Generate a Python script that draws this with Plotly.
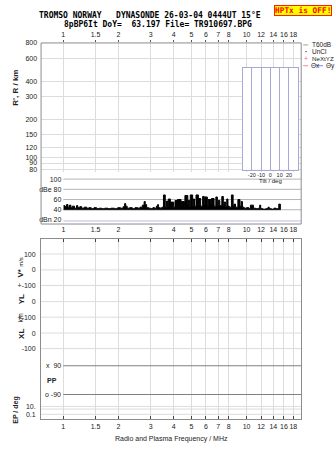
import plotly.graph_objects as go

W, H = 335, 451


def px(x):
    return x / W


def py(y):
    return 1 - y / H


# ---------------- data ----------------
freq_ticks = [1, 1.5, 2, 3, 4, 5, 6, 7, 8, 10, 12, 14, 16, 18]
freq_ticktext = ["1", "1.5", "2", "3", "4", "5", "6", "7", "8", "10", "12", "14", "16", "18"]
range_ticks = [80, 90, 100, 120, 150, 200, 300, 400, 600, 800]
amp_ticks = [20, 40, 60, 80, 100]
amp_ticktext = ["dBn 20", "40", "60", "dBe 80", "100"]
amp_grid = [40, 60, 80, 100]
amp_floor = 40
noise_level = 18
tilt_ticks = [-20, -10, 0, 10, 20]

amp_freq = [1.00, 1.02, 1.04, 1.06, 1.08, 1.10, 1.12, 1.15, 1.18, 1.20, 1.23, 1.26,
            1.30, 1.34, 1.38, 1.42, 1.47, 1.52, 1.57, 1.62, 1.68, 1.75, 1.82, 1.90,
            1.98, 2.05, 2.12, 2.16, 2.19, 2.23, 2.30, 2.38, 2.46, 2.55, 2.62, 2.70,
            2.76, 2.80, 2.85, 2.92, 3.00, 3.08, 3.15, 3.22, 3.27, 3.31, 3.38, 3.45,
            3.52, 3.60, 3.66, 3.71, 3.74, 3.84, 4.00, 4.07, 4.18, 4.20, 4.39, 4.42,
            4.58, 4.61, 4.78, 4.80, 4.90, 4.93, 5.08, 5.12, 5.20, 5.30, 5.46, 5.50,
            5.62, 5.76, 5.88, 5.93, 6.11, 6.17, 6.39, 6.43, 6.65, 6.80, 6.93, 7.00,
            7.15, 7.33, 7.47, 7.55, 7.70, 7.80, 7.92, 8.05, 8.27, 8.45, 8.55, 8.70,
            8.97, 9.21, 9.35, 9.50, 9.70, 10.0, 10.3, 10.5, 10.9, 11.2, 11.6, 11.8,
            11.95, 12.3, 12.7, 13.1, 13.3, 13.7, 14.1, 14.5, 15.0, 15.3]
amp_db = [48, 46, 50, 45, 49, 44, 47, 43, 48, 44, 46, 43,
          45, 43, 44, 42, 44, 42, 43, 42, 43, 42, 43, 42,
          44, 43, 46, 52, 47, 43, 44, 42, 44, 43, 45, 49,
          56, 50, 44, 43, 42, 44, 43, 47, 50, 44, 43, 45,
          69, 46, 57, 47, 61, 55, 45, 58, 47, 60, 48, 56,
          46, 68, 50, 58, 46, 69, 48, 61, 47, 69, 50, 62,
          47, 66, 50, 65, 48, 60, 52, 62, 47, 65, 49, 58,
          48, 66, 49, 55, 46, 61, 47, 45, 69, 48, 51, 45,
          60, 47, 56, 45, 43, 44, 42, 49, 43, 42, 43, 49,
          42, 41, 42, 45, 42, 41, 43, 42, 51, 40]

lower_tick_pos = [166.7, 150.7, 135, 118.7, 103, 87, 71.3, 13.0, 5.0]
lower_tick_text = ["100", "0", "+-100", "0", "+-100", "0", "-100", "10.", "0.1"]
lower_grid = [166.7, 150.7, 135, 118.7, 103, 87, 71.3, 13.0, 10.3, 5.0]
pp_levels = [54, 25]
pp_text = ["x  90", "o -90"]

# ---------------- layout geometry ----------------
XL, XR = 39.3, 301.0
x_range = [-0.1215, 1.2984]
TOP_T, TOP_B = 39.3, 170.0
AMP_T, AMP_B = 172.0, 222.0
LOW_T, LOW_B = 237.0, 419.0

GRID = "#dcdcdc"
FRAME = "#8c8c8c"
LAV = "#a8a8d8"
TXT = "#222222"
FONT = "Liberation Sans"
MONO = "DejaVu Sans Mono"

fig = go.Figure()

# amplitude (filled spikes from floor)
fig.add_trace(go.Scatter(x=[amp_freq[0], amp_freq[-1]], y=[amp_floor, amp_floor],
                         xaxis="x2", yaxis="y2", mode="lines",
                         line=dict(width=0.5, color="black"), hoverinfo="skip",
                         showlegend=False))
fig.add_trace(go.Scatter(x=amp_freq, y=amp_db, xaxis="x2", yaxis="y2", mode="lines",
                         line=dict(shape="hv", width=1, color="black"),
                         fill="tonexty", fillcolor="black", showlegend=False))

# empty top panel trace to keep axes
fig.add_trace(go.Scatter(x=[1], y=[100], xaxis="x", yaxis="y", mode="markers",
                         marker=dict(opacity=0), showlegend=False, hoverinfo="skip"))
# tilt inset
fig.add_trace(go.Scatter(x=[0], y=[0.5], xaxis="x4", yaxis="y4", mode="markers",
                         marker=dict(opacity=0), showlegend=False, hoverinfo="skip"))
# PP lines in lower panel
for lv in pp_levels:
    fig.add_trace(go.Scatter(x=[1, 10 ** x_range[1]], y=[lv, lv], xaxis="x3", yaxis="y3",
                             mode="lines", line=dict(color="#808080", width=1),
                             showlegend=False, hoverinfo="skip"))

tickfont = dict(family=FONT, size=7, color=TXT)

fig.update_layout(
    width=W, height=H, margin=dict(l=0, r=0, t=0, b=0),
    paper_bgcolor="white", plot_bgcolor="white", showlegend=False,
    xaxis=dict(type="log", range=x_range, domain=[px(XL), px(XR)], anchor="y",
               side="top", tickvals=freq_ticks, ticktext=freq_ticktext, tickangle=0,
               showgrid=True, gridcolor=GRID, gridwidth=1, zeroline=False,
               ticks="outside", ticklen=2, tickcolor="#555", tickfont=tickfont,
               showline=False),
    yaxis=dict(type="log", range=[1.8795, 2.9031], domain=[py(TOP_B), py(TOP_T)],
               anchor="x", tickvals=range_ticks, ticktext=[str(v) for v in range_ticks],
               showgrid=True, gridcolor=GRID, zeroline=False, ticks="",
               tickfont=tickfont, ticklabelstandoff=3, showline=False),
    xaxis2=dict(type="log", range=[0, x_range[1]], domain=[px(61.7), px(XR)], anchor="y2",
                tickvals=freq_ticks, ticktext=freq_ticktext, tickangle=0, showgrid=False,
                zeroline=False, ticks="", tickfont=tickfont, showline=False),
    yaxis2=dict(range=[12.0, 109.1], domain=[py(AMP_B), py(AMP_T)], anchor="x2",
                tickvals=amp_ticks, ticktext=amp_ticktext, showgrid=False,
                zeroline=False, ticks="", tickfont=tickfont, ticklabelstandoff=1,
                showline=False),
    xaxis3=dict(type="log", range=x_range, domain=[px(XL), px(XR)], anchor="y3",
                tickvals=freq_ticks, ticktext=freq_ticktext, tickangle=0, showgrid=True,
                gridcolor=GRID, zeroline=False, ticks="inside", ticklen=3,
                tickcolor="#444", tickfont=tickfont, showline=True, linecolor=FRAME,
                mirror="ticks"),
    yaxis3=dict(range=[0, LOW_B - LOW_T], domain=[py(LOW_B), py(LOW_T)], anchor="x3",
                tickvals=lower_tick_pos, ticktext=lower_tick_text, showgrid=False,
                zeroline=False, ticks="", tickfont=tickfont, ticklabelstandoff=3,
                showline=True, linecolor=FRAME, mirror=True),
    xaxis4=dict(range=[-30, 30], domain=[px(242), px(298)], anchor="y4",
                tickvals=tilt_ticks, ticktext=[str(v) for v in tilt_ticks], tickangle=0,
                showgrid=True, gridcolor=LAV, zeroline=False, ticks="",
                tickfont=dict(family=FONT, size=5.5, color=TXT), showline=True,
                linecolor=LAV, mirror=True,
                title=dict(text="Tilt / deg", font=dict(family=FONT, size=6, color=TXT),
                           standoff=0)),
    yaxis4=dict(range=[0, 1], domain=[py(167.3), py(64.7)], anchor="x4",
                showticklabels=False, showgrid=False, zeroline=False, ticks="",
                showline=True, linecolor=LAV, mirror=True),
)

shapes = []
# top frame (range + amplitude)
shapes.append(dict(type="line", xref="paper", yref="paper", x0=px(XL), x1=px(XR),
                   y0=py(TOP_T), y1=py(TOP_T), line=dict(color=FRAME, width=1)))
shapes.append(dict(type="line", xref="paper", yref="paper", x0=px(XL), x1=px(XR),
                   y0=py(AMP_B), y1=py(AMP_B), line=dict(color=FRAME, width=1)))
shapes.append(dict(type="line", xref="paper", yref="paper", x0=px(XR), x1=px(XR),
                   y0=py(TOP_T), y1=py(AMP_B), line=dict(color=FRAME, width=1)))
shapes.append(dict(type="line", xref="paper", yref="paper", x0=px(XL), x1=px(XL),
                   y0=py(TOP_T), y1=py(AMP_B), line=dict(color=FRAME, width=1)))
# amplitude grid lines
for v in amp_grid:
    shapes.append(dict(type="line", xref="x2 domain", yref="y2", x0=0, x1=1, y0=v, y1=v,
                       line=dict(color="#b4b4b4", width=1), layer="below"))
shapes.append(dict(type="line", xref="x2 domain", yref="y2", x0=0, x1=1,
                   y0=noise_level, y1=noise_level, line=dict(color="#b8b8ec", width=1)))
# lower panel grid lines
for v in lower_grid:
    shapes.append(dict(type="line", xref="x3 domain", yref="y3", x0=0, x1=1, y0=v, y1=v,
                       line=dict(color=GRID, width=1), layer="below"))

# legend sample marks
shapes.append(dict(type="line", xref="paper", yref="paper", x0=px(303), x1=px(308),
                   y0=py(41.3), y1=py(41.3), line=dict(color="#a0a0a0", width=1)))
shapes.append(dict(type="line", xref="paper", yref="paper", x0=px(303), x1=px(308),
                   y0=py(62.3), y1=py(62.3), line=dict(color="#ff8098", width=1)))
shapes.append(dict(type="line", xref="paper", yref="paper", x0=px(316), x1=px(323),
                   y0=py(62.3), y1=py(62.3), line=dict(color="#8080ff", width=1)))
fig.update_layout(shapes=shapes)

ann = []


def text(x, y, s, size=7, anchor="center", family=FONT, color=TXT, angle=0, **kw):
    ann.append(dict(x=px(x), y=py(y), xref="paper", yref="paper", text=s, showarrow=False,
                    xanchor=anchor, yanchor="middle", textangle=angle,
                    font=dict(family=family, size=size, color=color), **kw))


text(149.2, 11.5, "<b>TROMSO NORWAY   DYNASONDE 26-03-04 0444UT 15°E</b>", size=8,
     family=MONO, color="black")
text(156.7, 20.5, "<b>8pBP6It DoY=  63.197 File= TR910697.BPG</b>", size=8, family=MONO,
     color="black")
text(302.5, 7, "<b>HPTx is OFF!</b>", size=7.8, family=MONO, color="#ff0000",
     bgcolor="#ffff00", bordercolor="#ff2000", borderwidth=1, borderpad=0)

# legend text
text(309.5, 41.3, "T60dB", anchor="left", size=6.5)
text(305.5, 47.8, "<b>·</b>", anchor="center", color="black")
text(309.5, 48.3, "UnCl", anchor="left", size=6.5)
text(305.5, 55, "+", anchor="center", color="#ff6090")
text(309.5, 55, "NeXtYZ", anchor="left", size=6.2)
text(308.5, 62.3, "Θx", anchor="left", size=6.5)
text(324, 62.3, "Θy", anchor="left", size=6.5)

# axis titles
text(14, 84.5, "<b>R', R / km</b>", size=8, angle=-90)
text(19, 266, "<b>V*</b> <span style='font-size:6px'>m/s</span>", size=8, angle=-90)
text(19, 298, "<b>YL</b>", size=8, angle=-90)
text(19, 316.5, "km", size=7, angle=-90)
text(19, 333, "<b>XL</b>", size=8, angle=-90)
text(43, 380, "<b>PP</b>", size=7, anchor="left")
text(14, 409.5, "<b>EP / deg</b>", size=7, angle=-90)
for lv, s in zip(pp_levels, pp_text):
    ann.append(dict(x=0, xref="x3 domain", y=lv, yref="y3", text=s, showarrow=False,
                    xanchor="right", yanchor="middle", xshift=(61.5 - XL),
                    font=dict(family=FONT, size=7, color=TXT)))

text(171, 438.7, "Radio and Plasma Frequency / MHz", size=7)

fig.update_layout(annotations=ann)
fig.write_html("out.html")
